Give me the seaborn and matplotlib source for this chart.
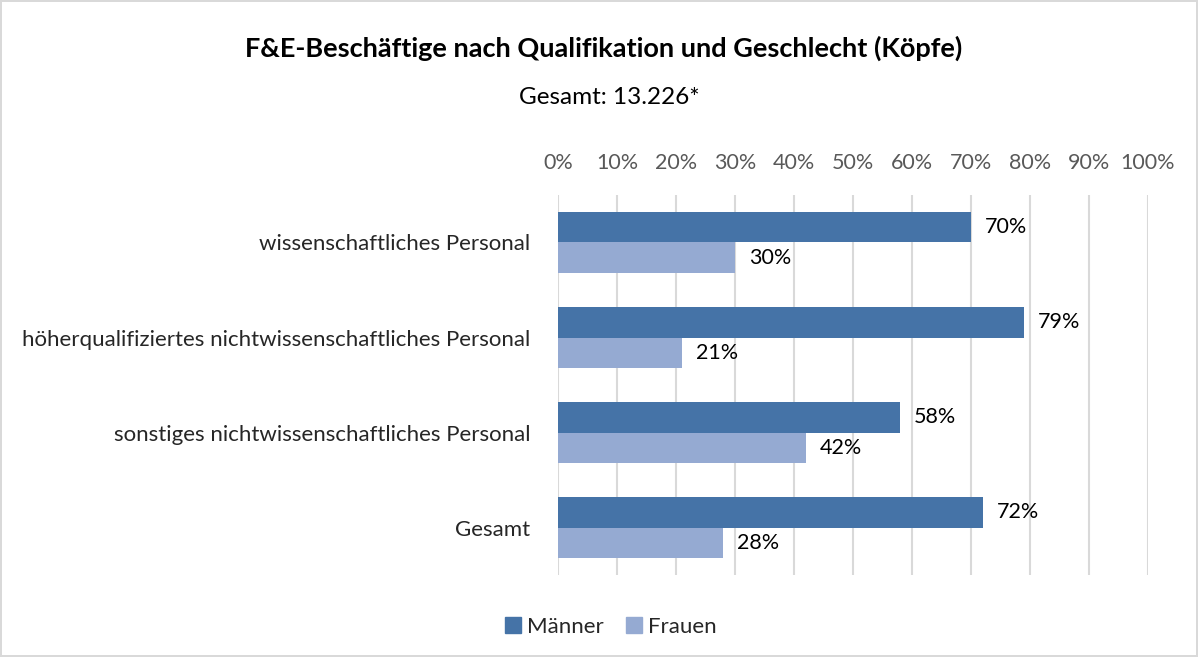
import matplotlib
matplotlib.use("Agg")
import matplotlib.pyplot as plt
import seaborn as sns
import pandas as pd

# Daten
kategorien = [
    "wissenschaftliches Personal",
    "höherqualifiziertes nichtwissenschaftliches Personal",
    "sonstiges nichtwissenschaftliches Personal",
    "Gesamt",
]
maenner = [70, 79, 58, 72]
frauen = [30, 21, 42, 28]
geschlechter = ["Männer", "Frauen"]
farben = ["#4573a7", "#95aad2"]
x_ticks = [0, 10, 20, 30, 40, 50, 60, 70, 80, 90, 100]

df = pd.DataFrame({
    "Kategorie": kategorien * 2,
    "Geschlecht": ["Männer"] * 4 + ["Frauen"] * 4,
    "Anteil": maenner + frauen,
})

sns.set_theme(style="white")
plt.rcParams["font.family"] = ["Lato", "DejaVu Sans"]

fig = plt.figure(figsize=(11.98, 6.57), dpi=100)
fig.patch.set_edgecolor("#d9d9d9")
fig.patch.set_linewidth(1.5)
ax = fig.add_axes([0.4658, 0.1248, 0.4925, 0.5784])

sns.barplot(data=df, y="Kategorie", x="Anteil", hue="Geschlecht",
            hue_order=geschlechter, order=kategorien, palette=farben,
            orient="h", width=0.65, saturation=1, linewidth=0,
            ax=ax, legend=True)

ax.set_xlim(0, 100)
ax.set_xticks(x_ticks)
ax.set_xticklabels([f"{t}%" for t in x_ticks])
ax.xaxis.tick_top()
ax.tick_params(axis="x", length=0, pad=16, labelsize=15.5, labelcolor="#595959")
ax.tick_params(axis="y", length=0, pad=20, labelsize=16, labelcolor="#262626")
ax.grid(axis="x", color="#d9d9d9", linewidth=1.5)
ax.set_axisbelow(True)
for s in ax.spines.values():
    s.set_visible(False)
ax.set_xlabel("")
ax.set_ylabel("")

for cont in ax.containers:
    ax.bar_label(cont, labels=[f"{v:.0f}%" for v in cont.datavalues],
                 padding=10, fontsize=15.5, color="#000000")

ax.legend_.remove()
handles = [plt.Rectangle((0, 0), 1, 1, color=c) for c in farben]
fig.legend(handles, geschlechter, loc="center", bbox_to_anchor=(0.51, 0.046),
           ncol=2, frameon=False, fontsize=16, handlelength=0.7,
           handleheight=0.7, handletextpad=0.3, columnspacing=1.0)

fig.text(0.504, 0.927, "F&E-Beschäftige nach Qualifikation und Geschlecht (Köpfe)",
         ha="center", va="center", fontsize=19.5, fontweight="bold", color="#000000")
fig.text(0.509, 0.851, "Gesamt: 13.226*", ha="center", va="center",
         fontsize=17.5, color="#000000")

fig.savefig("out.png", dpi=100)
